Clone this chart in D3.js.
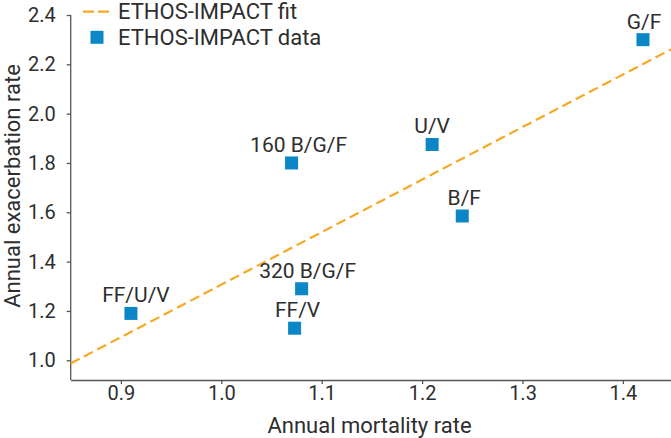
<!DOCTYPE html>
<html>
<head>
<meta charset="utf-8">
<script src="https://cdn.jsdelivr.net/npm/d3@7"></script>
<style>
  html, body { margin: 0; padding: 0; background: #fff; }
  svg { display: block; }
  text { font-family: Roboto, "Noto Sans", sans-serif; fill: #2e2e2e; }
</style>
</head>
<body>
<svg id="chart" width="671" height="438"></svg>
<script>
// ---- data ----
const treatments = ["G/F", "U/V", "B/F", "160 B/G/F", "320 B/G/F", "FF/V", "FF/U/V"];
const mortality = [1.42, 1.21, 1.24, 1.07, 1.08, 1.073, 0.91];
const exacerbation = [2.30, 1.875, 1.585, 1.80, 1.29, 1.13, 1.19];
const labelNudge = [1, 0, 2, 7, 6, 3, 5];
const fitX = [0.85, 1.45];
const fitY = [0.987, 2.265];
const xTicks = [0.9, 1.0, 1.1, 1.2, 1.3, 1.4];
const yTicks = [1.0, 1.2, 1.4, 1.6, 1.8, 2.0, 2.2, 2.4];
const legendLabels = ["ETHOS-IMPACT fit", "ETHOS-IMPACT data"];

// ---- layout ----
const svg = d3.select("#chart");
const blue = "#0b86c6";
const orange = "#f7a826";
const axisColor = "#555";

const x = d3.scaleLinear().domain([0.85, 1.45]).range([70.7, 673.1]);
const y = d3.scaleLinear().domain([0.92, 2.4]).range([380, 15]);

// axes
const xAxis = svg.append("g").attr("transform", "translate(0,380)")
  .call(d3.axisBottom(x).tickValues(xTicks).tickFormat(d3.format(".1f")).tickSize(4).tickPadding(2).tickSizeOuter(0));
const yAxis = svg.append("g").attr("transform", "translate(70.7,0)")
  .call(d3.axisLeft(y).tickValues(yTicks).tickFormat(d3.format(".1f")).tickSize(4).tickPadding(11).tickSizeOuter(0));
[xAxis, yAxis].forEach(g => {
  g.select(".domain").attr("stroke", axisColor).attr("stroke-width", 1.3);
  g.selectAll(".tick line").attr("stroke", axisColor).attr("stroke-width", 1.3);
  g.selectAll(".tick text").attr("font-size", 20).attr("font-family", "Roboto").attr("fill", "#333");
});
yAxis.select(".domain").attr("d", `M0,${y(2.4)}V380`);

// axis titles
svg.append("text").attr("x", 369.5).attr("y", 433).attr("text-anchor", "middle")
  .attr("font-size", 22).text("Annual mortality rate");
svg.append("text").attr("transform", "translate(20,186) rotate(-90)").attr("text-anchor", "middle")
  .attr("font-size", 22).text("Annual exacerbation rate");

// fit line
svg.append("line")
  .attr("x1", x(fitX[0])).attr("y1", y(fitY[0]))
  .attr("x2", x(fitX[1])).attr("y2", y(fitY[1]))
  .attr("stroke", orange).attr("stroke-width", 2.2).attr("stroke-dasharray", "10,5");

// points
const sq = 13;
const pts = treatments.map((t, i) => ({ t, mx: mortality[i], ey: exacerbation[i], n: labelNudge[i] }));
svg.selectAll("rect.pt").data(pts).enter().append("rect").attr("class", "pt")
  .attr("x", d => x(d.mx) - sq / 2).attr("y", d => y(d.ey) - sq / 2)
  .attr("width", sq).attr("height", sq).attr("fill", blue);
svg.selectAll("text.lbl").data(pts).enter().append("text").attr("class", "lbl")
  .attr("x", d => x(d.mx) + d.n).attr("y", d => y(d.ey) - 11)
  .attr("text-anchor", "middle").attr("font-size", 21).text(d => d.t);

// legend
const lg = svg.append("g");
lg.append("line").attr("x1", 83).attr("x2", 110).attr("y1", 11.7).attr("y2", 11.7)
  .attr("stroke", orange).attr("stroke-width", 2.2).attr("stroke-dasharray", "11,4");
lg.append("text").attr("x", 118).attr("y", 18.5).attr("font-size", 22).text(legendLabels[0]);
lg.append("rect").attr("x", 97 - sq / 2).attr("y", 37.3 - sq / 2).attr("width", sq).attr("height", sq).attr("fill", blue);
lg.append("text").attr("x", 118).attr("y", 44.5).attr("font-size", 22).text(legendLabels[1]);
</script>
</body>
</html>
